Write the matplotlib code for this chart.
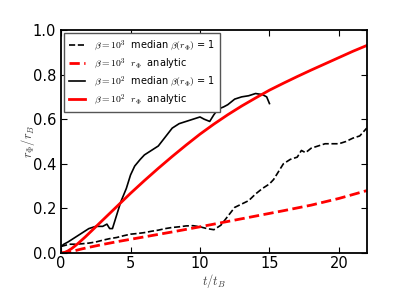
import numpy as np
import matplotlib
matplotlib.use("Agg")
import matplotlib.pyplot as plt

# beta = 1e3, median beta(r_phi) = 1
t_b3 = [0, 0.3, 0.6, 1, 1.5, 2, 2.5, 3, 3.5, 4, 4.5, 5, 5.5, 6, 6.5, 7, 7.5, 8, 8.5, 9,
        9.5, 10, 10.5, 11, 11.5, 12, 12.5, 13, 13.5, 14, 14.5, 15, 15.3, 15.7, 16, 16.5,
        17, 17.3, 17.6, 18, 18.5, 19, 19.5, 20, 20.5, 21, 21.5, 22]
r_b3 = [0.03, 0.035, 0.04, 0.04, 0.042, 0.045, 0.05, 0.058, 0.065, 0.07, 0.078, 0.085,
        0.088, 0.092, 0.098, 0.103, 0.11, 0.115, 0.118, 0.122, 0.123, 0.118, 0.11, 0.105,
        0.125, 0.165, 0.205, 0.22, 0.235, 0.265, 0.29, 0.31, 0.33, 0.37, 0.40, 0.42, 0.43,
        0.46, 0.45, 0.47, 0.48, 0.49, 0.49, 0.49, 0.50, 0.515, 0.525, 0.56]

# beta = 1e3 analytic
t_a3 = [0, 0.5, 1, 1.5, 2, 3, 4, 5, 6, 8, 10, 12, 14, 16, 18, 20, 22]
r_a3 = [0, 0.004, 0.011, 0.019, 0.026, 0.039, 0.051, 0.062, 0.073, 0.095, 0.118, 0.142,
        0.166, 0.19, 0.215, 0.245, 0.28]

# beta = 1e2, median beta(r_phi) = 1
t_b2 = [0, 0.2, 0.5, 1, 1.5, 2, 2.5, 3, 3.3, 3.5, 3.7, 4, 4.3, 4.7, 5, 5.3, 5.7, 6, 6.5,
        7, 7.5, 8, 8.5, 9, 9.5, 10, 10.3, 10.7, 11, 11.3, 11.7, 12, 12.5, 13, 13.5, 14,
        14.5, 14.8, 15]
r_b2 = [0.03, 0.04, 0.05, 0.07, 0.09, 0.11, 0.12, 0.12, 0.13, 0.11, 0.11, 0.17, 0.23,
        0.29, 0.35, 0.39, 0.42, 0.44, 0.46, 0.48, 0.52, 0.56, 0.58, 0.59, 0.60, 0.61,
        0.60, 0.59, 0.62, 0.645, 0.655, 0.665, 0.69, 0.70, 0.705, 0.715, 0.71, 0.70, 0.67]

# beta = 1e2 analytic
t_a2 = [0, 0.25, 0.5, 0.75, 1, 1.25, 1.5, 1.75, 2, 2.5, 3, 3.5, 4, 4.5, 5, 6, 7, 8, 9,
        10, 11, 12, 13, 14, 15, 16, 17, 18, 19, 20, 21, 22]
r_a2 = [0, 0.003, 0.01, 0.02, 0.032, 0.045, 0.059, 0.073, 0.088, 0.118, 0.148, 0.178,
        0.208, 0.238, 0.268, 0.325, 0.38, 0.433, 0.484, 0.533, 0.578, 0.62, 0.659, 0.695,
        0.73, 0.761, 0.791, 0.82, 0.848, 0.876, 0.904, 0.93]

plt.rcParams['mathtext.fontset'] = 'cm'

fig = plt.figure(figsize=(4.07, 3.05), dpi=100)
ax = fig.add_axes([0.15, 0.17, 0.751, 0.732])

ax.plot(t_b3, r_b3, 'k--', lw=1.2, label=r'$\beta=10^3$  median $\beta(r_\Phi)$ = 1')
ax.plot(t_a3, r_a3, '--', color='red', lw=2, label=r'$\beta=10^3$  $r_\Phi$  analytic')
ax.plot(t_b2, r_b2, 'k-', lw=1.2, label=r'$\beta=10^2$  median $\beta(r_\Phi)$ = 1')
ax.plot(t_a2, r_a2, '-', color='red', lw=2, label=r'$\beta=10^2$  $r_\Phi$  analytic')

ax.set_xlim(0, 22)
ax.set_ylim(0, 1.0)
ax.set_xticks([0, 5, 10, 15, 20])
ax.set_yticks([0.0, 0.2, 0.4, 0.6, 0.8, 1.0])
ax.yaxis.set_major_formatter(matplotlib.ticker.FormatStrFormatter('%.1f'))
ax.tick_params(direction='in', top=True, right=True, labelsize=10.5, length=4)
ax.tick_params(axis='x', pad=2)
for s in ax.spines.values():
    s.set_linewidth(1.3)
ax.set_xlabel(r'$t/t_B$', fontsize=9, color='#444444')
ax.set_ylabel(r'$r_\Phi/r_B$', fontsize=9, color='#444444')
ax.xaxis.set_label_coords(0.5, -0.085)
ax.yaxis.set_label_coords(-0.078, 0.5)

leg = ax.legend(loc='upper left', fontsize=7, fancybox=False, framealpha=1,
                handlelength=1.6, borderpad=0.5, labelspacing=0.35, handletextpad=0.9,
                borderaxespad=0.35)
leg.get_frame().set_edgecolor('#555555')

fig.savefig('out.png', dpi=100)
